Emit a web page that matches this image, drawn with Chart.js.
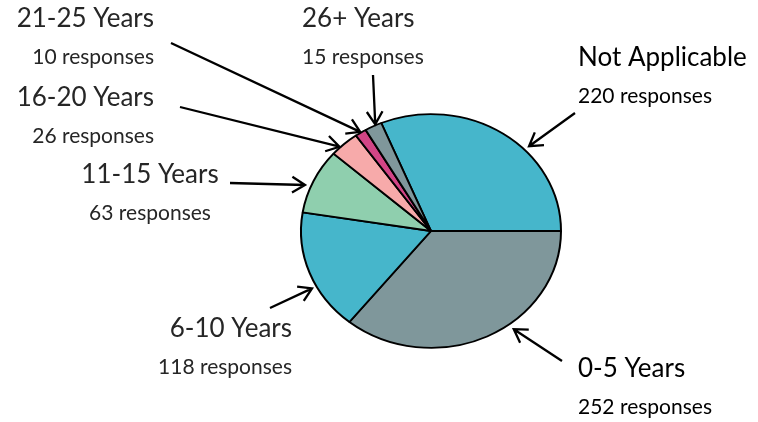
<!DOCTYPE html>
<html lang="en">
<head>
    <meta charset="UTF-8">
    <title>Years of experience</title>
    <script src="https://cdn.jsdelivr.net/npm/chart.js"></script>
    <style>
        html, body { margin: 0; padding: 0; background: #fff; }
        .wrap { position: relative; width: 758px; height: 422px; }
    </style>
</head>
<body>
    <div class="wrap">
        <canvas id="pieChart" width="758" height="422"></canvas>
    </div>

    <script>
        // data
        const categories = ['Not Applicable', '0-5 Years', '6-10 Years', '11-15 Years', '16-20 Years', '21-25 Years', '26+ Years'];
        const responses = [220, 252, 118, 63, 26, 10, 15];
        const sliceColors = ['#46b6cb', '#7f979b', '#46b6cb', '#8fcfae', '#f7aaaa', '#d24586', '#7f979b'];

        // where each callout label sits, and which part of its slice the arrow points at
        const callouts = [
            { x: 578, y: 66,  align: 'left',   tail: [575, 113], frac: 0.61, gap: 6, dark: true },
            { x: 578, y: 377, align: 'left',   tail: [562, 361], frac: 0.41, gap: 7, dark: true },
            { x: 292, y: 337, align: 'right',  tail: [270, 308], frac: 0.38, gap: 5 },
            { x: 150, y: 183, align: 'center', tail: [230, 183], frac: 0.40, gap: 6 },
            { x: 154, y: 106, align: 'right',  tail: [180, 107], frac: 0.32, gap: 1 },
            { x: 154, y: 27,  align: 'right',  tail: [171, 43],  frac: 0.50, gap: 1 },
            { x: 302, y: 27,  align: 'left',   tail: [373, 75],  frac: 0.65, gap: 1 }
        ];

        const yScale = 116 / 129;   // the pie is a little squashed

        const squashPlugin = {
            id: 'squash',
            beforeDatasetsDraw(chart) {
                const arc = chart.getDatasetMeta(0).data[0];
                const ctx = chart.ctx;
                ctx.save();
                ctx.translate(arc.x, arc.y);
                ctx.scale(1, yScale);
                ctx.translate(-arc.x, -arc.y);
            },
            afterDatasetsDraw(chart) {
                chart.ctx.restore();
            }
        };

        function drawArrow(ctx, x1, y1, x2, y2) {
            const ang = Math.atan2(y2 - y1, x2 - x1);
            const head = 15;
            ctx.beginPath();
            ctx.moveTo(x1, y1);
            ctx.lineTo(x2, y2);
            ctx.moveTo(x2 - head * Math.cos(ang - 0.55), y2 - head * Math.sin(ang - 0.55));
            ctx.lineTo(x2, y2);
            ctx.lineTo(x2 - head * Math.cos(ang + 0.55), y2 - head * Math.sin(ang + 0.55));
            ctx.stroke();
        }

        const calloutPlugin = {
            id: 'callouts',
            afterDraw(chart) {
                const ctx = chart.ctx;
                const arcs = chart.getDatasetMeta(0).data;
                ctx.save();
                callouts.forEach((c, i) => {
                    const arc = arcs[i];
                    const a = arc.startAngle + c.frac * (arc.endAngle - arc.startAngle);
                    const r = arc.outerRadius + c.gap;
                    const tipX = arc.x + r * Math.cos(a);
                    const tipY = arc.y + r * Math.sin(a) * yScale;

                    ctx.strokeStyle = '#000';
                    ctx.lineWidth = 2.3;
                    ctx.lineCap = 'butt';
                    drawArrow(ctx, c.tail[0], c.tail[1], tipX, tipY);

                    ctx.fillStyle = c.dark ? '#000' : '#262626';
                    ctx.textAlign = c.align;
                    ctx.textBaseline = 'alphabetic';
                    ctx.font = '26px Lato';
                    ctx.fillText(categories[i], c.x, c.y);
                    ctx.font = '21px Lato';
                    ctx.fillText(responses[i] + ' responses', c.x, c.y + 37);
                });
                ctx.restore();
            }
        };

        new Chart(document.getElementById('pieChart'), {
            type: 'pie',
            data: {
                labels: categories,
                datasets: [{
                    data: responses,
                    backgroundColor: sliceColors,
                    borderColor: '#000',
                    borderWidth: 2
                }]
            },
            options: {
                responsive: false,
                animation: false,
                rotation: -22.5,
                radius: 130,
                layout: { padding: { left: 104, right: 0, top: 40, bottom: 0 } },
                plugins: {
                    legend: { display: false },
                    tooltip: { enabled: false }
                }
            },
            plugins: [squashPlugin, calloutPlugin]
        });
    </script>
</body>
</html>
